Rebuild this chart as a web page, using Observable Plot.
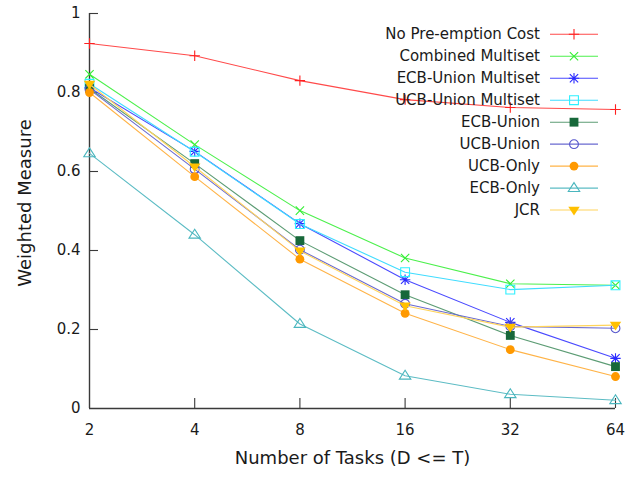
<!DOCTYPE html>
<html>
<head>
<meta charset="utf-8">
<script src="https://cdn.jsdelivr.net/npm/d3@7"></script>
<script src="https://cdn.jsdelivr.net/npm/@observablehq/plot@0.6"></script>
<style>
  html, body { margin: 0; padding: 0; background: #fff; }
  #chart { position: relative; width: 630px; height: 480px; font-family: "DejaVu Sans", sans-serif; }
  #chart svg.overlay { position: absolute; left: 0; top: 0; pointer-events: none; }
</style>
</head>
<body>
<div id="chart"></div>
<script>
// Number of tasks on the x axis (log2 scale)
const tasks = [2, 4, 8, 16, 32, 64];
const xTicks = [2, 4, 8, 16, 32, 64];
const yTicks = [0, 0.2, 0.4, 0.6, 0.8, 1];

const seriesNames = [
  "No Pre-emption Cost",
  "Combined Multiset",
  "ECB-Union Multiset",
  "UCB-Union Multiset",
  "ECB-Union",
  "UCB-Union",
  "UCB-Only",
  "ECB-Only",
  "JCR"
];

// Weighted measure for each analysis, one value per task count
const noPreemption     = [0.924, 0.893, 0.830, 0.782, 0.762, 0.757];
const combinedMultiset = [0.846, 0.668, 0.501, 0.381, 0.316, 0.312];
const ecbUnionMultiset = [0.812, 0.651, 0.468, 0.326, 0.218, 0.127];
const ucbUnionMultiset = [0.822, 0.650, 0.467, 0.345, 0.301, 0.312];
const ecbUnion         = [0.810, 0.620, 0.425, 0.288, 0.185, 0.106];
const ucbUnion         = [0.808, 0.606, 0.402, 0.265, 0.208, 0.203];
const ucbOnly          = [0.800, 0.587, 0.378, 0.241, 0.149, 0.081];
const ecbOnly          = [0.646, 0.440, 0.214, 0.083, 0.036, 0.021];
const jcr              = [0.821, 0.612, 0.399, 0.260, 0.206, 0.211];

const seriesValues = [noPreemption, combinedMultiset, ecbUnionMultiset, ucbUnionMultiset,
                      ecbUnion, ucbUnion, ucbOnly, ecbOnly, jcr];

// Styling per series: line colour, point colour, point shape, filled point
const lineColors  = ["#ff4a4a", "#4cf04c", "#4a4aff", "#3fdcff", "#5c9c74", "#6a6ad0", "#ffb347", "#5cbcc4", "#ffd45c"];
const pointColors = ["#ff2020", "#33ee33", "#2a2aff", "#2ef0ff", "#17683a", "#5555cc", "#ff9900", "#4ab6be", "#ffc000"];
const pointShapes = ["plus", "times", "asterisk", "square", "square", "circle", "circle", "triangle", "triangleDown"];
const pointFilled = [false, false, false, false, true, false, true, false, true];

// Gnuplot-like point glyphs as d3-compatible symbol objects
function makeSymbol(kind) {
  return {
    draw(ctx, size) {
      const r = Math.sqrt(size / Math.PI);
      const k = r * 0.8;
      switch (kind) {
        case "plus":
          ctx.moveTo(-r, 0); ctx.lineTo(r, 0);
          ctx.moveTo(0, -r); ctx.lineTo(0, r);
          break;
        case "times":
          ctx.moveTo(-k, -k); ctx.lineTo(k, k);
          ctx.moveTo(-k, k); ctx.lineTo(k, -k);
          break;
        case "asterisk":
          ctx.moveTo(-r, 0); ctx.lineTo(r, 0);
          ctx.moveTo(0, -r); ctx.lineTo(0, r);
          ctx.moveTo(-k, -k); ctx.lineTo(k, k);
          ctx.moveTo(-k, k); ctx.lineTo(k, -k);
          break;
        case "square": {
          const s = r * 0.85;
          ctx.moveTo(-s, -s); ctx.lineTo(s, -s); ctx.lineTo(s, s); ctx.lineTo(-s, s); ctx.closePath();
          break;
        }
        case "circle": {
          const c = r * 0.85;
          ctx.moveTo(c, 0); ctx.arc(0, 0, c, 0, 2 * Math.PI); ctx.closePath();
          break;
        }
        case "triangle":
          ctx.moveTo(0, -r * 1.05); ctx.lineTo(r * 1.1, r * 0.65); ctx.lineTo(-r * 1.1, r * 0.65); ctx.closePath();
          break;
        case "triangleDown":
          ctx.moveTo(0, r * 1.05); ctx.lineTo(r * 1.1, -r * 0.65); ctx.lineTo(-r * 1.1, -r * 0.65); ctx.closePath();
          break;
      }
    }
  };
}
const symbols = pointShapes.map(makeSymbol);

const rows = seriesNames.flatMap((name, i) =>
  tasks.map((t, j) => ({series: name, tasks: t, value: seriesValues[i][j]})));

const W = 630, H = 480;
const mL = 89, mR = 15, mT = 13, mB = 72;
const frameW = W - mL - mR, frameH = H - mT - mB;
const axisColor = "#3a3a3a";

const marks = [];
seriesNames.forEach((name, i) => {
  const data = rows.filter(d => d.series === name);
  marks.push(Plot.line(data, {x: "tasks", y: "value", stroke: lineColors[i], strokeWidth: 1.1}));
  marks.push(Plot.dot(data, {
    x: "tasks", y: "value", symbol: symbols[i], r: 5.2,
    fill: pointFilled[i] ? pointColors[i] : "none",
    stroke: pointFilled[i] ? "none" : pointColors[i],
    strokeWidth: 1.1
  }));
});

const chart = Plot.plot({
  width: W,
  height: H,
  marginLeft: mL,
  marginRight: mR,
  marginTop: mT,
  marginBottom: mB,
  style: {fontFamily: "DejaVu Sans, sans-serif", background: "#fff", color: "#1a1a1a"},
  x: {type: "log", base: 2, domain: [2, 64]},
  y: {domain: [0, 1]},
  marks: [
    // inward tick marks
    Plot.ruleX(xTicks.slice(1), {stroke: axisColor, strokeWidth: 1.1, insetTop: frameH - 10}),
    Plot.ruleY(yTicks.slice(1), {stroke: axisColor, strokeWidth: 1.1, insetRight: frameW - 9}),
    // axis lines (left and bottom)
    Plot.ruleX([2], {stroke: axisColor, strokeWidth: 1.4}),
    Plot.ruleY([0], {stroke: axisColor, strokeWidth: 1.4}),
    Plot.axisX(xTicks, {tickSize: 0, tickPadding: 16, fontSize: 15, tickFormat: d => String(d), label: null}),
    Plot.axisY(yTicks, {tickSize: 0, tickPadding: 9, fontSize: 15, tickFormat: d => String(d), label: null}),
    Plot.text(["Number of Tasks (D <= T)"], {frameAnchor: "bottom", dy: 55, fontSize: 18, fill: "#1a1a1a"}),
    Plot.text(["Weighted Measure"], {frameAnchor: "left", textAnchor: "middle", rotate: -90, dx: -64, dy: -8, fontSize: 18, fill: "#1a1a1a"}),
    ...marks
  ]
});

const root = document.getElementById("chart");
root.appendChild(chart);

// Key inside the upper-right of the plot area
const legend = d3.select(root).append("svg")
  .attr("class", "overlay")
  .attr("width", W).attr("height", H);
const rowY0 = 34.3, rowStep = 21.97, textRight = 540, sampleX1 = 550, sampleX2 = 598;
seriesNames.forEach((name, i) => {
  const y = rowY0 + i * rowStep;
  legend.append("text")
    .attr("x", textRight).attr("y", y)
    .attr("text-anchor", "end").attr("dominant-baseline", "central")
    .attr("font-family", "DejaVu Sans, sans-serif").attr("font-size", 15)
    .attr("fill", "#1a1a1a")
    .text(name);
  legend.append("line")
    .attr("x1", sampleX1).attr("x2", sampleX2).attr("y1", y).attr("y2", y)
    .attr("stroke", lineColors[i]).attr("stroke-width", 1.1);
  const p = d3.path();
  symbols[i].draw(p, 5.2 * 5.2 * Math.PI);
  legend.append("path")
    .attr("d", p.toString())
    .attr("transform", `translate(${(sampleX1 + sampleX2) / 2},${y})`)
    .attr("fill", pointFilled[i] ? pointColors[i] : "none")
    .attr("stroke", pointFilled[i] ? "none" : pointColors[i])
    .attr("stroke-width", 1.1);
});
</script>
</body>
</html>
